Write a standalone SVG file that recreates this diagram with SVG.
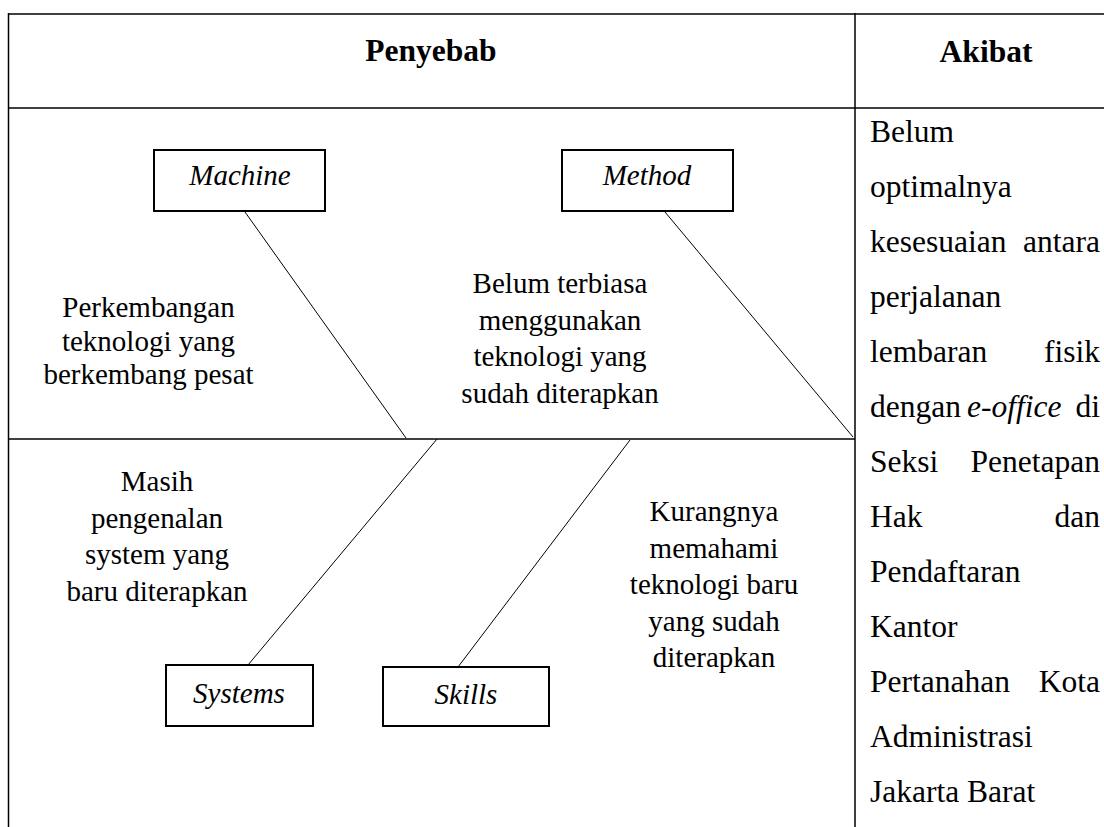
<svg xmlns="http://www.w3.org/2000/svg" width="1104" height="827" viewBox="0 0 1104 827">
<style>
.frame{fill:none;stroke:#000;stroke-width:1.5}
.box{fill:#fff;stroke:#000;stroke-width:2}
.conn{stroke:#000;stroke-width:1;fill:none}
text{font-family:"Liberation Serif","Times New Roman",serif;fill:#000}
.hd{font-size:31.5px;font-weight:bold;text-anchor:middle}
.lbl{font-size:29px;font-style:italic;text-anchor:middle}
.cause{font-size:29px;text-anchor:middle}
.eff{font-size:31.5px}
.end{text-anchor:end}
.it{font-style:italic}
</style>
<rect width="1104" height="827" fill="#fff"/>
<g id="table">
<line class="frame" x1="8" y1="14" x2="1117" y2="14"/>
<line class="frame" x1="8" y1="108" x2="1117" y2="108"/>
<line class="frame" x1="8.5" y1="13" x2="8.5" y2="840"/>
<line class="frame" x1="855" y1="13" x2="855" y2="840"/>
<line class="frame" x1="1117" y1="13" x2="1117" y2="840"/>
<text class="hd" x="431" y="61">Penyebab</text>
<text class="hd" x="986" y="61.5">Akibat</text>
</g>
<g id="spine">
<line class="frame" x1="8" y1="439" x2="855" y2="439"/>
</g>
<g id="connectors">
<line class="conn" x1="245" y1="212" x2="406" y2="438"/>
<line class="conn" x1="665" y1="212" x2="853" y2="437"/>
<line class="conn" x1="248" y1="665" x2="437" y2="439"/>
<line class="conn" x1="458" y1="667" x2="630" y2="440"/>
</g>
<g id="machine">
<rect class="box" x="154" y="150" width="171" height="61"/>
<text class="lbl" x="240" y="185">Machine</text>
</g>
<g id="method">
<rect class="box" x="562" y="150" width="171" height="61"/>
<text class="lbl" x="647" y="185">Method</text>
</g>
<g id="systems">
<rect class="box" x="166" y="665" width="147" height="61"/>
<text class="lbl" x="239" y="703">Systems</text>
</g>
<g id="skills">
<rect class="box" x="383" y="667" width="166" height="59"/>
<text class="lbl" x="466" y="704">Skills</text>
</g>
<g id="cause-machine">
<text class="cause" x="148.5" y="317">Perkembangan</text>
<text class="cause" x="148.5" y="350.5">teknologi yang</text>
<text class="cause" x="148.5" y="384">berkembang pesat</text>
</g>
<g id="cause-method">
<text class="cause" x="560" y="293">Belum terbiasa</text>
<text class="cause" x="560" y="329.5">menggunakan</text>
<text class="cause" x="560" y="366">teknologi yang</text>
<text class="cause" x="560" y="402.5">sudah diterapkan</text>
</g>
<g id="cause-systems">
<text class="cause" x="157" y="491">Masih</text>
<text class="cause" x="157" y="527.5">pengenalan</text>
<text class="cause" x="157" y="564">system yang</text>
<text class="cause" x="157" y="600.5">baru diterapkan</text>
</g>
<g id="cause-skills">
<text class="cause" x="714" y="521">Kurangnya</text>
<text class="cause" x="714" y="557.5">memahami</text>
<text class="cause" x="714" y="594">teknologi baru</text>
<text class="cause" x="714" y="630.5">yang sudah</text>
<text class="cause" x="714" y="667">diterapkan</text>
</g>
<g id="effect">
<text class="eff" x="870" y="142">Belum</text>
<text class="eff" x="870" y="197">optimalnya</text>
<text class="eff" x="870" y="252">kesesuaian</text><text class="eff end" x="1100" y="252">antara</text>
<text class="eff" x="870" y="307">perjalanan</text>
<text class="eff" x="870" y="362">lembaran</text><text class="eff end" x="1100" y="362">fisik</text>
<text class="eff" x="870" y="417">dengan</text><text class="eff it" x="967" y="417">e-office</text><text class="eff end" x="1100" y="417">di</text>
<text class="eff" x="870" y="472">Seksi</text><text class="eff end" x="1100" y="472">Penetapan</text>
<text class="eff" x="870" y="527">Hak</text><text class="eff end" x="1100" y="527">dan</text>
<text class="eff" x="870" y="582">Pendaftaran</text>
<text class="eff" x="870" y="637">Kantor</text>
<text class="eff" x="870" y="692">Pertanahan</text><text class="eff end" x="1100" y="692">Kota</text>
<text class="eff" x="870" y="747">Administrasi</text>
<text class="eff" x="870" y="802">Jakarta Barat</text>
</g>
</svg>
